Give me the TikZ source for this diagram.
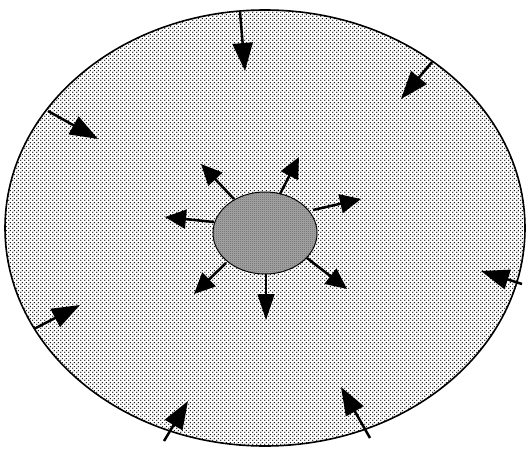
\documentclass[tikz,border=0pt]{standalone}
\usetikzlibrary{shapes.geometric,arrows.meta,patterns.meta}
\tikzdeclarepattern{
  name=sparsedots, type=uncolored,
  bounding box={(0,0) and (4pt,4pt)},
  tile size={(4pt,4pt)},
  code={\fill (1pt,1pt) circle (0.85pt); \fill (3pt,3pt) circle (0.85pt);}
}
\tikzdeclarepattern{
  name=densedots, type=uncolored,
  bounding box={(0,0) and (2pt,2pt)},
  tile size={(2pt,2pt)},
  code={\fill (0.5pt,0.5pt) circle (0.6pt); \fill (1.5pt,1.5pt) circle (0.6pt);}
}
\tikzset{
  cellshape/.style={ellipse, draw=black, line width=1.6pt, inner sep=0pt,
    minimum width=520pt, minimum height=436pt,
    fill=white, postaction={pattern={sparsedots}, pattern color=black}},
  coreshape/.style={ellipse, draw=black, line width=1pt, inner sep=0pt,
    minimum width=104pt, minimum height=82pt,
    fill=black!35, postaction={pattern={densedots}, pattern color=black!70}},
  inflow/.style={line width=2.5pt, -{Triangle[length=28pt,width=20pt]}},
  outflow/.style={line width=2.5pt, -{Triangle[length=21pt,width=19pt]}},
  thinflow/.style={line width=1.2pt, -{Triangle[length=26pt,width=17pt]}}
}
\begin{document}
\begin{tikzpicture}[x=1pt,y=-1pt]
\useasboundingbox (0,0) rectangle (529,452);
\node[cellshape] (cell) at (265,228) {};
\node[coreshape] (core) at (265,233) {};
% inward arrows (outer)
\coordinate (a1t) at (240,12);  \coordinate (a1h) at (245,71);
\coordinate (a2t) at (432,62);  \coordinate (a2h) at (401,99);
\coordinate (a3t) at (48,111);  \coordinate (a3h) at (98,139);
\coordinate (a4t) at (34,329);  \coordinate (a4h) at (80,305);
\coordinate (a5t) at (164,441); \coordinate (a5h) at (188,401);
\coordinate (a6t) at (370,438); \coordinate (a6h) at (341,387);
\coordinate (a7t) at (522,284); \coordinate (a7h) at (481,271);
\foreach \i in {1,...,7} {\draw[inflow] (a\i t) -- (a\i h);}
% outward arrows (core)
\coordinate (b1t) at (214,222); \coordinate (b1h) at (165,217);
\coordinate (b2t) at (234,199); \coordinate (b2h) at (201,164);
\coordinate (b3t) at (280,194); \coordinate (b3h) at (299,157);
\coordinate (b4t) at (313,210); \coordinate (b4h) at (361,199);
\coordinate (b5t) at (307,258); \coordinate (b5h) at (347,289);
\coordinate (b7t) at (226,263); \coordinate (b7h) at (194,294);
\foreach \i in {1,2,3,4,5,7} {\draw[outflow] (b\i t) -- (b\i h);}
\coordinate (b6t) at (266,274); \coordinate (b6h) at (266,320);
\draw[thinflow] (b6t) -- (b6h);
\end{tikzpicture}
\end{document}
